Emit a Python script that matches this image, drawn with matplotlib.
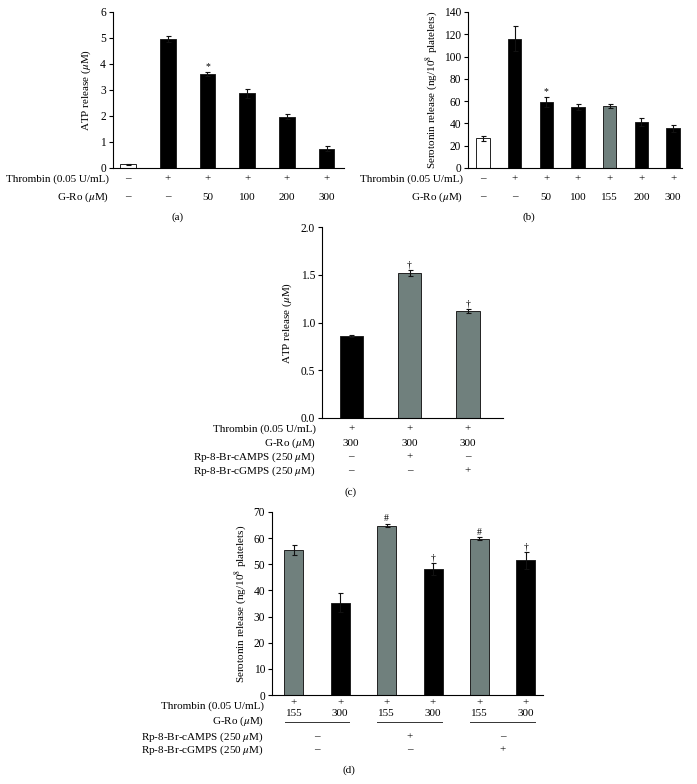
import numpy as np
import matplotlib
matplotlib.use('Agg')
from matplotlib import pyplot as plt
import matplotlib.transforms as mtransforms

plt.rcParams['font.family'] = ['Liberation Serif', 'DejaVu Serif']
plt.rcParams['mathtext.fontset'] = 'stix'
plt.rcParams['font.size'] = 8

W, H = 697., 784.
gray = '#70807d'
fs = 8

# (a) ATP release
a_vals = [0.15, 4.95, 3.63, 2.87, 1.98, 0.75]
a_err = [0.02, 0.12, 0.08, 0.17, 0.10, 0.08]
a_colors = ['white', 'black', 'black', 'black', 'black', 'black']
a_thrombin = ['\u2013', '+', '+', '+', '+', '+']
a_gro = ['\u2013', '\u2013', '50', '100', '200', '300']
a_marks = ['', '', '*', '', '', '']

# (b) serotonin release
b_vals = [26.5, 116, 59.5, 55, 55.5, 41, 35.5]
b_err = [2, 11, 4.5, 2.5, 1.5, 3.5, 3.5]
b_colors = ['white', 'black', 'black', 'black', gray, 'black', 'black']
b_thrombin = ['\u2013', '+', '+', '+', '+', '+', '+']
b_gro = ['\u2013', '\u2013', '50', '100', '155', '200', '300']
b_marks = ['', '', '*', '', '', '', '']

# (c) ATP release with inhibitors
c_vals = [0.86, 1.52, 1.12]
c_err = [0.01, 0.03, 0.02]
c_colors = ['black', gray, gray]
c_thrombin = ['+', '+', '+']
c_gro = ['300', '300', '300']
c_camps = ['\u2013', '+', '\u2013']
c_cgmps = ['\u2013', '\u2013', '+']
c_marks = ['', '\u2020', '\u2020']

# (d) serotonin release with inhibitors
d_vals = [55.5, 35.3, 64.8, 48.2, 59.8, 51.5]
d_err = [2.0, 3.6, 0.7, 2.3, 0.5, 3.2]
d_colors = [gray, 'black', gray, 'black', gray, 'black']
d_thrombin = ['+'] * 6
d_gro = ['155', '300', '155', '300', '155', '300']
d_camps = ['\u2013', '+', '\u2013']
d_cgmps = ['\u2013', '\u2013', '+']
d_marks = ['', '', '#', '\u2020', '#', '\u2020']

fig = plt.figure(figsize=(W/100, H/100), dpi=100)


def make_ax(x0, x1, ytop, ybot):
    return fig.add_axes([x0/W, 1-ybot/H, (x1-x0)/W, (ybot-ytop)/H])


def bars(ax, vals, err, colors, width, marks, mark_off):
    x = np.arange(len(vals))
    ax.bar(x, vals, width=width, color=colors, edgecolor='#222222', linewidth=0.7, zorder=2)
    ax.errorbar(x, vals, yerr=err, fmt='none', ecolor='#111111', elinewidth=0.8,
                capsize=1.8, capthick=0.8, zorder=3)
    for i, m in enumerate(marks):
        if m:
            ax.text(i, vals[i]+err[i]+mark_off, m, ha='center', va='bottom', fontsize=7)
    for s in ['top', 'right']:
        ax.spines[s].set_visible(False)
    ax.spines['left'].set_linewidth(0.8)
    ax.spines['bottom'].set_linewidth(0.8)
    ax.set_xticks([])
    ax.tick_params(axis='y', length=3, width=0.8, pad=2, labelsize=8.3)
    return x


def row(ax, labels, ypix, xs=None):
    tr = mtransforms.blended_transform_factory(ax.transData, fig.transFigure)
    if xs is None:
        xs = range(len(labels))
    for xi, l in zip(xs, labels):
        ax.text(xi, 1-ypix/H, l, transform=tr, ha='center', va='center', fontsize=fs)


def rlabel(xpix, ypix, s):
    fig.text(xpix/W, 1-ypix/H, s, ha='right', va='center', fontsize=fs)


# panel (a)
ax = make_ax(113, 344, 12, 168)
bars(ax, a_vals, a_err, a_colors, 0.4, a_marks, 0.02)
ax.set_xlim(-0.38, 5.44)
ax.set_ylim(0, 6)
ax.set_yticks(range(0, 7))
ax.set_ylabel(r'ATP release ($\mu$M)', fontsize=fs, labelpad=5)
row(ax, a_thrombin, 179)
row(ax, a_gro, 197)
rlabel(109, 179, 'Thrombin (0.05 U/mL)')
rlabel(109, 197, r'G-Ro ($\mu$M)')
fig.text(178/W, 1-217/H, '(a)', ha='center', va='center', fontsize=fs)

# panel (b)
ax = make_ax(468, 682, 12, 168)
bars(ax, b_vals, b_err, b_colors, 0.42, b_marks, 0.5)
ax.set_xlim(-0.47, 6.28)
ax.set_ylim(0, 140)
ax.set_yticks(range(0, 141, 20))
ax.set_ylabel(r'Serotonin release (ng/10$^8$ platelets)', fontsize=fs, labelpad=3)
row(ax, b_thrombin, 179)
row(ax, b_gro, 197)
rlabel(463, 179, 'Thrombin (0.05 U/mL)')
rlabel(463, 197, r'G-Ro ($\mu$M)')
fig.text(529/W, 1-217/H, '(b)', ha='center', va='center', fontsize=fs)

# panel (c)
ax = make_ax(322, 503, 227, 418)
bars(ax, c_vals, c_err, c_colors, 0.4, c_marks, 0.01)
ax.set_xlim(-0.5, 2.6)
ax.set_ylim(0, 2.0)
ax.set_yticks([0, 0.5, 1.0, 1.5, 2.0])
ax.set_yticklabels(['0.0', '0.5', '1.0', '1.5', '2.0'])
ax.set_ylabel(r'ATP release ($\mu$M)', fontsize=fs, labelpad=5)
row(ax, c_thrombin, 429)
row(ax, c_gro, 443)
row(ax, c_camps, 457)
row(ax, c_cgmps, 471)
rlabel(316, 429, 'Thrombin (0.05 U/mL)')
rlabel(316, 443, r'G-Ro ($\mu$M)')
rlabel(316, 457, r'Rp-8-Br-cAMPS (250 $\mu$M)')
rlabel(316, 471, r'Rp-8-Br-cGMPS (250 $\mu$M)')
fig.text(351/W, 1-492/H, '(c)', ha='center', va='center', fontsize=fs)

# panel (d)
ax = make_ax(272, 543, 512, 695)
bars(ax, d_vals, d_err, d_colors, 0.41, d_marks, 0.3)
ax.set_xlim(-0.47, 5.37)
ax.set_ylim(0, 70)
ax.set_yticks(range(0, 71, 10))
ax.set_ylabel(r'Serotonin release (ng/10$^8$ platelets)', fontsize=fs, labelpad=3)
row(ax, d_thrombin, 703)
row(ax, d_gro, 713)
tr = mtransforms.blended_transform_factory(ax.transData, fig.transFigure)
for g in range(3):
    ax.plot([2*g-0.2, 2*g+1.2], [1-722/H]*2, transform=tr, color='#333333',
            lw=0.7, clip_on=False)
row(ax, d_camps, 737, xs=[0.5, 2.5, 4.5])
row(ax, d_cgmps, 750, xs=[0.5, 2.5, 4.5])
rlabel(264, 706, 'Thrombin (0.05 U/mL)')
rlabel(264, 721, r'G-Ro ($\mu$M)')
rlabel(264, 737, r'Rp-8-Br-cAMPS (250 $\mu$M)')
rlabel(264, 750, r'Rp-8-Br-cGMPS (250 $\mu$M)')
fig.text(349/W, 1-770/H, '(d)', ha='center', va='center', fontsize=fs)

plt.savefig('out.png', dpi=100)
plt.close()
